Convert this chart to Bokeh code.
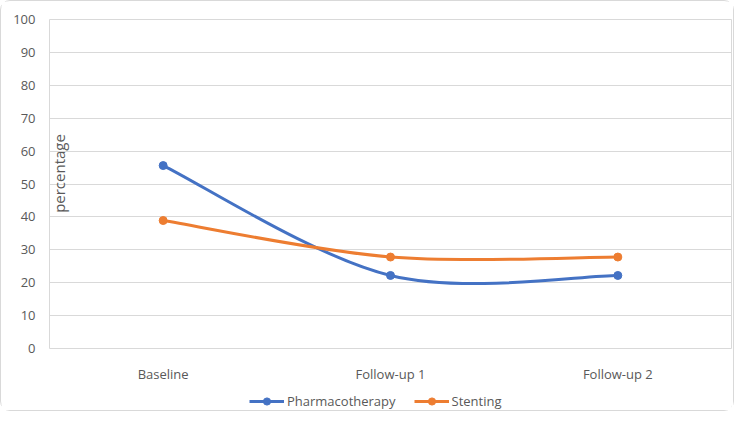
from bokeh.plotting import figure
from bokeh.layouts import column
from bokeh.models import (Range1d, FixedTicker, Legend, LegendItem, Label, ColumnDataSource)
from bokeh.embed import file_html
from bokeh.resources import INLINE
import numpy as np

categories = ["Baseline", "Follow-up 1", "Follow-up 2"]
pharmacotherapy = [55.6, 22.2, 22.2]
stenting = [38.9, 27.8, 27.8]
series_names = ["Pharmacotherapy", "Stenting"]
y_ticks = [0, 10, 20, 30, 40, 50, 60, 70, 80, 90, 100]

BLUE = "#4472C4"
ORANGE = "#ED7D31"
GRID = "#d9d9d9"
TEXT = "#595959"
FONT = "Open Sans"

p = figure(width=732, height=387, output_backend="svg", toolbar_location=None,
           x_range=Range1d(-0.5, len(categories) - 0.5), y_range=Range1d(0, 100),
           min_border_left=48, min_border_right=2, min_border_top=18, min_border_bottom=40,
           outline_line_color=GRID, outline_line_width=1,
           background_fill_color="white", border_fill_color="white")

xs = np.arange(len(categories), dtype=float)
p.xaxis.ticker = FixedTicker(ticks=list(xs))
p.xaxis.major_label_overrides = {i: c for i, c in enumerate(categories)}
p.yaxis.ticker = FixedTicker(ticks=y_ticks)

for ax in (p.xaxis[0], p.yaxis[0]):
    ax.axis_line_color = None
    ax.major_tick_line_color = None
    ax.minor_tick_line_color = None
    ax.major_tick_out = 0
    ax.major_tick_in = 0
    ax.minor_tick_out = 0
    ax.minor_tick_in = 0
    ax.major_label_text_font = FONT
    ax.major_label_text_font_size = "13px"
    ax.major_label_text_color = TEXT
p.yaxis.major_label_standoff = 14
p.xaxis.major_label_standoff = 16

p.xgrid.grid_line_color = None
p.ygrid.grid_line_color = GRID
p.ygrid.grid_line_width = 1


def smooth_segments(x, y):
    # Catmull-Rom style Bezier control points (as Excel's smoothed line)
    x = list(x); y = list(y)
    n = len(x)
    px = [x[0]] + x + [x[-1]]
    py = [y[0]] + y + [y[-1]]
    d = dict(x0=[], y0=[], x1=[], y1=[], cx0=[], cy0=[], cx1=[], cy1=[])
    for i in range(n - 1):
        j = i + 1
        d["x0"].append(px[j]); d["y0"].append(py[j])
        d["x1"].append(px[j + 1]); d["y1"].append(py[j + 1])
        d["cx0"].append(px[j] + (px[j + 1] - px[j - 1]) / 6)
        d["cy0"].append(py[j] + (py[j + 1] - py[j - 1]) / 6)
        d["cx1"].append(px[j + 1] - (px[j + 2] - px[j]) / 6)
        d["cy1"].append(py[j + 1] - (py[j + 2] - py[j]) / 6)
    return ColumnDataSource(d)


# legend strip below the chart
lp = figure(width=732, height=22, output_backend="svg", toolbar_location=None,
            x_range=Range1d(0, 1), y_range=Range1d(0, 1),
            x_axis_type=None, y_axis_type=None, outline_line_color=None,
            min_border=0, background_fill_color="white", border_fill_color="white")
lp.xgrid.grid_line_color = None
lp.ygrid.grid_line_color = None

items = []
for name, vals, col in zip(series_names, [pharmacotherapy, stenting], [BLUE, ORANGE]):
    src = smooth_segments(xs, vals)
    p.bezier(x0="x0", y0="y0", x1="x1", y1="y1", cx0="cx0", cy0="cy0", cx1="cx1", cy1="cy1",
             source=src, line_color=col, line_width=3)
    p.scatter(x=list(xs), y=vals, size=8, marker="circle", fill_color=col, line_color=col)
    # legend proxies (nothing visible in the strip itself)
    lr = lp.line(x=[np.nan, np.nan], y=[np.nan, np.nan], line_color=col, line_width=3)
    sr = lp.scatter(x=[np.nan], y=[np.nan], size=8, marker="circle", fill_color=col, line_color=col)
    items.append(LegendItem(label=name, renderers=[lr, sr]))

legend = Legend(items=items, orientation="horizontal", location=(200, 0),
                label_text_font=FONT, label_text_font_size="13px", label_text_color=TEXT,
                glyph_width=35, glyph_height=18, label_height=18, label_standoff=3, spacing=18,
                padding=0, margin=0, border_line_color=None, background_fill_alpha=0)
lp.add_layout(legend)

ylabel = Label(x=-0.5, y=53.2, x_offset=9, text="percentage", angle=np.pi / 2,
               text_align="center", text_baseline="middle",
               text_font=FONT, text_font_size="15px", text_color=TEXT)
p.add_layout(ylabel)

layout = column(p, lp, spacing=0,
                styles={"border": "1px solid #d9d9d9", "border-radius": "10px",
                        "background-color": "white"})

open("out.html", "w").write(file_html(layout, INLINE))
